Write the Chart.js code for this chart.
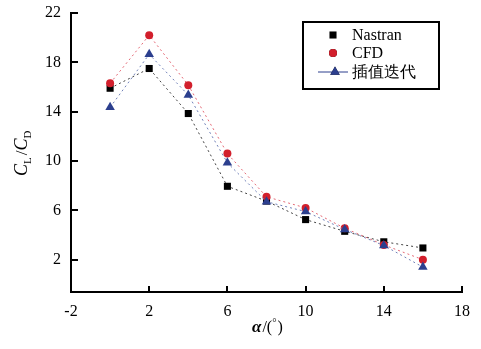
<!DOCTYPE html>
<html>
<head>
<meta charset="utf-8">
<script src="https://cdn.jsdelivr.net/npm/chart.js@4"></script>
<style>
  html, body { margin: 0; padding: 0; background: #fff; }
  #wrap { width: 481px; height: 349px; position: relative; }
</style>
</head>
<body>
<div id="wrap"><canvas id="chart" width="481" height="349"></canvas></div>
<script>
// angle of attack (deg)
const alpha = [0, 2, 4, 6, 8, 10, 12, 14, 16];
const nastran = [15.9, 17.5, 13.85, 7.95, 6.75, 5.25, 4.3, 3.45, 2.95];
const cfd = [16.3, 20.2, 16.15, 10.6, 7.1, 6.2, 4.55, 3.2, 2.0];
const iterative = [14.35, 18.65, 15.35, 9.85, 6.7, 5.9, 4.45, 3.15, 1.4];
const xTicks = [-2, 2, 6, 10, 14, 18];
const yTicks = [2, 6, 10, 14, 18, 22];
const seriesNames = ['Nastran', 'CFD', '插值迭代'];

const FONT = "'Liberation Serif', 'Times New Roman', serif";

function pts(ys) {
  return alpha.map((x, i) => ({ x: x, y: ys[i] }));
}

// inward tick marks, legend box and axis titles
const decor = {
  id: 'decor',
  afterDraw(chart) {
    const ctx = chart.ctx;
    const xs = chart.scales.x, ys = chart.scales.y;
    const area = chart.chartArea;
    ctx.save();
    ctx.strokeStyle = '#000';
    ctx.lineWidth = 2;
    xTicks.forEach(v => {
      if (v === xs.min) return;
      const px = Math.round(xs.getPixelForValue(v));
      ctx.beginPath();
      ctx.moveTo(px, area.bottom);
      ctx.lineTo(px, area.bottom - 6);
      ctx.stroke();
    });
    yTicks.forEach(v => {
      const py = Math.round(ys.getPixelForValue(v));
      ctx.beginPath();
      ctx.moveTo(area.left, py);
      ctx.lineTo(area.left + 7, py);
      ctx.stroke();
    });

    // legend
    const bx = 303, by = 22, bw = 136, bh = 67;
    ctx.fillStyle = '#fff';
    ctx.fillRect(bx, by, bw, bh);
    ctx.lineWidth = 2;
    ctx.strokeRect(bx, by, bw, bh);
    ctx.font = '16px ' + FONT;
    ctx.textBaseline = 'middle';
    ctx.textAlign = 'left';
    const rows = [35, 53, 72];
    chart.data.datasets.forEach((ds, i) => {
      const y = rows[i];
      if (i === 2) {
        ctx.strokeStyle = ds.pointBackgroundColor;
        ctx.lineWidth = 1;
        ctx.beginPath();
        ctx.moveTo(318, y);
        ctx.lineTo(348, y);
        ctx.stroke();
      }
      Chart.helpers.drawPoint(ctx, {
        pointStyle: ds.pointStyle,
        radius: ds.pointRadius,
        rotation: 0,
        borderWidth: 0
      }, i === 2 ? 335 : 333, y);
      ctx.fillStyle = ds.pointBackgroundColor;
      ctx.fill();
      ctx.fillStyle = '#000';
      ctx.fillText(seriesNames[i], 352, y + 1);
    });

    // x title: α/(°)
    ctx.fillStyle = '#000';
    ctx.textBaseline = 'alphabetic';
    let x = 252;
    const yb = 332;
    ctx.font = 'bold italic 17px ' + FONT;
    ctx.fillText('α', x, yb);
    x += ctx.measureText('α').width + 1;
    ctx.font = '16px ' + FONT;
    ctx.fillText('/(', x, yb);
    x += ctx.measureText('/(').width;
    ctx.font = '11px ' + FONT;
    ctx.fillText('°', x, yb - 6);
    x += ctx.measureText('°').width + 1;
    ctx.font = '16px ' + FONT;
    ctx.fillText(')', x, yb);

    // y title: C_L/C_D rotated
    ctx.translate(27, 176);
    ctx.rotate(-Math.PI / 2);
    let t = 0;
    const parts = [
      ['C', 'italic 18px ', 0],
      ['L', '11px ', 4],
      ['/', '17px ', 0],
      ['C', 'italic 18px ', 0],
      ['D', '11px ', 4]
    ];
    parts.forEach(p => {
      ctx.font = p[1] + FONT;
      ctx.fillText(p[0], t, p[2]);
      t += ctx.measureText(p[0]).width + (p[0] === 'L' ? 2 : 0);
    });
    ctx.restore();
  }
};

new Chart(document.getElementById('chart'), {
  type: 'scatter',
  data: {
    datasets: [
      {
        label: seriesNames[0],
        data: pts(nastran),
        showLine: true,
        borderColor: '#444',
        borderWidth: 1,
        borderDash: [2, 3],
        pointStyle: 'rect',
        pointRadius: 5,
        pointBackgroundColor: '#000',
        pointBorderWidth: 0,
        order: 3
      },
      {
        label: seriesNames[1],
        data: pts(cfd),
        showLine: true,
        borderColor: '#e46a76',
        borderWidth: 1,
        borderDash: [2, 3],
        pointStyle: 'circle',
        pointRadius: 4,
        pointBackgroundColor: '#d21f2c',
        pointBorderWidth: 0,
        order: 2
      },
      {
        label: seriesNames[2],
        data: pts(iterative),
        showLine: true,
        borderColor: '#7080b8',
        borderWidth: 1,
        borderDash: [2, 3],
        pointStyle: 'triangle',
        pointRadius: 5.5,
        pointBackgroundColor: '#2c3f8e',
        pointBorderWidth: 0,
        order: 1
      }
    ]
  },
  options: {
    responsive: false,
    animation: false,
    layout: { padding: { top: 13, right: 19, left: 0, bottom: 0 } },
    plugins: {
      legend: { display: false },
      tooltip: { enabled: false }
    },
    scales: {
      x: {
        type: 'linear',
        min: -2,
        max: 18,
        afterBuildTicks: s => { s.ticks = xTicks.map(v => ({ value: v })); },
        afterFit: s => { s.height = 57; s.paddingLeft = 0; s.paddingRight = 0; },
        grid: { display: true, drawOnChartArea: false, drawTicks: false },
        border: { color: '#000', width: 2 },
        ticks: {
          color: '#000',
          padding: 10,
          maxRotation: 0,
          font: { family: FONT, size: 16 }
        }
      },
      y: {
        type: 'linear',
        min: -0.62,
        max: 22,
        afterBuildTicks: s => { s.ticks = yTicks.map(v => ({ value: v })); },
        afterFit: s => { s.width = 71; s.paddingTop = 0; s.paddingBottom = 0; },
        grid: { display: true, drawOnChartArea: false, drawTicks: false },
        border: { color: '#000', width: 2 },
        ticks: {
          color: '#000',
          padding: 10,
          font: { family: FONT, size: 16 }
        }
      }
    }
  },
  plugins: [decor]
});
</script>
</body>
</html>
